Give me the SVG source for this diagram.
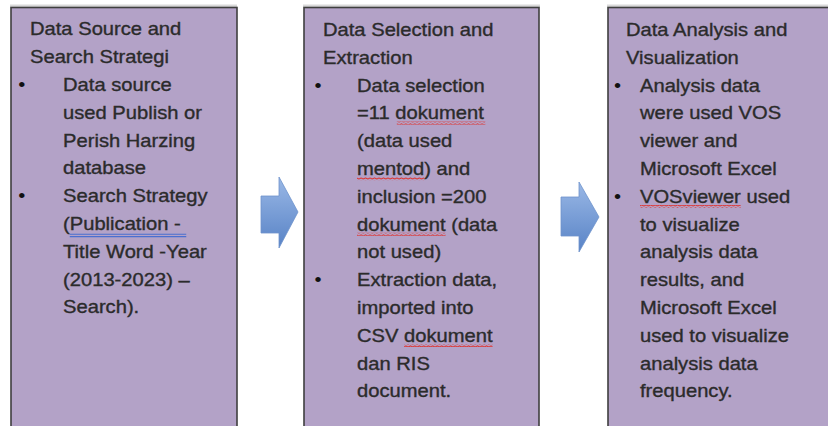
<svg xmlns="http://www.w3.org/2000/svg" width="828" height="426" viewBox="0 0 828 426">
  <defs>
    <style>
      .box { fill: #b3a2c7; stroke: #3f3f3f; stroke-width: 1.6; }
      .halo { fill: none; stroke: #d9d9d9; stroke-width: 3; }
      .t { font-family: "Liberation Sans", Arial, sans-serif; font-size: 18px; fill: #2b2b2b; stroke: #2b2b2b; stroke-width: 0.35; }
      .dot { font-family: "Liberation Sans", Arial, sans-serif; font-size: 18px; fill: #111; }
      .arrow { fill: url(#arrowFill); stroke: #6e93cc; stroke-width: 0.8; stroke-linejoin: round; }
      .spell { fill: url(#wave); }
      .grammar { stroke: #4a6fd0; stroke-width: 1.1; fill: none; }
    </style>
    <linearGradient id="arrowFill" x1="0" y1="0" x2="0" y2="1">
      <stop offset="0" stop-color="#9ab8e6"/>
      <stop offset="1" stop-color="#5883c6"/>
    </linearGradient>
    <!-- red squiggle used for spell-check marks -->
    <pattern id="wave" width="4" height="3" patternUnits="userSpaceOnUse">
      <path d="M0 2.2 L2 0.8 L4 2.2" fill="none" stroke="#e0302a" stroke-width="1"/>
    </pattern>
  </defs>

  <rect width="828" height="426" fill="#ffffff"/>

  <!-- step 1 -->
  <g id="node-source">
    <path class="halo" d="M10 6 H237"/>
    <rect class="box" x="11" y="7.5" width="226" height="430"/>
    <!-- text block is set slightly wide -->
    <g transform="translate(30,0) scale(1.12,1)">
      <text class="t" x="0" y="35.5">Data Source and</text>
      <text class="t" x="0" y="63.3">Search Strategi</text>
      <text class="dot" x="-10.5" y="91.1">•</text>
      <text class="t" x="29.5" y="91.1">Data source</text>
      <text class="t" x="29.5" y="118.9">used Publish or</text>
      <text class="t" x="29.5" y="146.7">Perish Harzing</text>
      <text class="t" x="29.5" y="174.5">database</text>
      <text class="dot" x="-10.5" y="202.3">•</text>
      <text class="t" x="29.5" y="202.3">Search Strategy</text>
      <text class="t" x="29.5" y="230.1">(Publication  -</text>
      <path class="grammar" d="M35.5 234.3 H139.5 M35.5 236.6 H139.5"/>
      <text class="t" x="29.5" y="257.9">Title Word -Year</text>
      <text class="t" x="29.5" y="285.7">(2013-2023) –</text>
      <text class="t" x="29.5" y="313.5">Search).</text>
    </g>
  </g>

  <!-- step 2 -->
  <g id="node-selection">
    <path class="halo" d="M303 6 H540"/>
    <rect class="box" x="304" y="7.5" width="235" height="430"/>
    <g transform="translate(323,0) scale(1.12,1)">
      <text class="t" x="0" y="36">Data Selection and</text>
      <text class="t" x="0" y="63.8">Extraction</text>
      <text class="dot" x="-7.5" y="91.6">•</text>
      <text class="t" x="30.4" y="91.6">Data selection</text>
      <text class="t" x="30.4" y="119.4">=11 dokument</text>
      <rect class="spell" x="65.9" y="121.6" width="79" height="3"/>
      <text class="t" x="30.4" y="147.2">(data used</text>
      <text class="t" x="30.4" y="175">mentod) and</text>
      <rect class="spell" x="30.4" y="177.2" width="60" height="3"/>
      <text class="t" x="30.4" y="202.8">inclusion =200</text>
      <text class="t" x="30.4" y="230.6">dokument (data</text>
      <rect class="spell" x="30.4" y="232.8" width="79" height="3"/>
      <text class="t" x="30.4" y="258.4">not used)</text>
      <text class="dot" x="-7.5" y="286.2">•</text>
      <text class="t" x="30.4" y="286.2">Extraction data,</text>
      <text class="t" x="30.4" y="314">imported into</text>
      <text class="t" x="30.4" y="341.8">CSV dokument</text>
      <rect class="spell" x="72.4" y="344" width="79" height="3"/>
      <text class="t" x="30.4" y="369.6">dan RIS</text>
      <text class="t" x="30.4" y="397.4">document.</text>
    </g>
  </g>

  <!-- step 3 -->
  <g id="node-analysis">
    <path class="halo" d="M607 6 H828"/>
    <rect class="box" x="608" y="7.5" width="240" height="430"/>
    <g transform="translate(626,0) scale(1.12,1)">
      <text class="t" x="0" y="36">Data Analysis and</text>
      <text class="t" x="0" y="63.8">Visualization</text>
      <text class="dot" x="-10.7" y="91.6">•</text>
      <text class="t" x="12.5" y="91.6">Analysis data</text>
      <text class="t" x="12.5" y="119.4">were used VOS</text>
      <text class="t" x="12.5" y="147.2">viewer and</text>
      <text class="t" x="12.5" y="175">Microsoft Excel</text>
      <text class="dot" x="-10.7" y="202.8">•</text>
      <text class="t" x="12.5" y="202.8">VOSviewer used</text>
      <rect class="spell" x="12.5" y="205" width="90" height="3"/>
      <text class="t" x="12.5" y="230.6">to visualize</text>
      <text class="t" x="12.5" y="258.4">analysis data</text>
      <text class="t" x="12.5" y="286.2">results, and</text>
      <text class="t" x="12.5" y="314">Microsoft Excel</text>
      <text class="t" x="12.5" y="341.8">used to visualize</text>
      <text class="t" x="12.5" y="369.6">analysis data</text>
      <text class="t" x="12.5" y="397.4">frequency.</text>
    </g>
  </g>

  <!-- block arrows between the steps -->
  <g id="connectors">
    <path class="arrow" d="M261 196 H279 V177 L298 212 L279 248 V233 H261 Z"/>
    <path class="arrow" d="M561 197 H579 V182 L599 217 L579 252 V236 H561 Z"/>
  </g>
</svg>
